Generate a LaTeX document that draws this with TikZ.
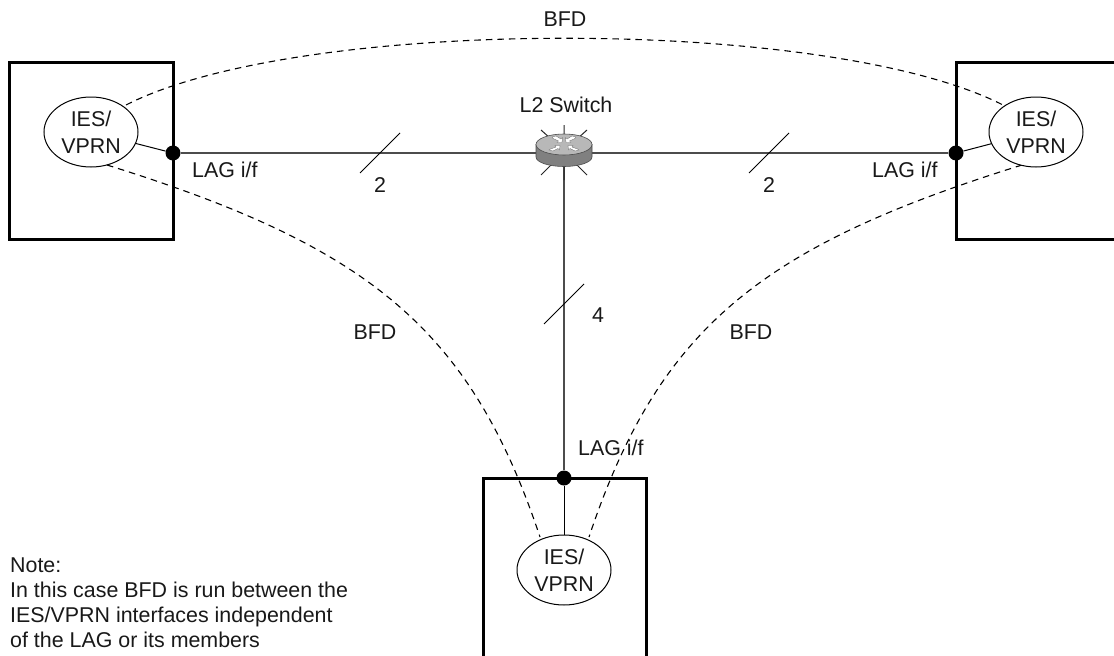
\documentclass[tikz,border=0pt]{standalone}
\usepackage{fontspec}
\setmainfont{Liberation Sans}
\usetikzlibrary{shapes.geometric}
\definecolor{linegray}{gray}{0.3}
\tikzset{
 x=1pt,y=-1pt,
 lbl/.style={font=\fontsize{21.4}{21.4}\selectfont,inner sep=0pt,text=black!90},
 hostbox/.style={draw=black,line width=3pt},
 svc/.style={draw=black,line width=1pt,ellipse,fill=white,minimum width=94pt,minimum height=70pt,inner sep=0pt,align=center,font=\fontsize{21.4}{26.5}\selectfont,text=black!90},
 port/.style={circle,fill=black,minimum size=15pt,inner sep=0pt},
 trunk/.style={draw=linegray,line width=1.6pt},
 thin/.style={draw=black,line width=1pt},
 bfd/.style={draw=black,line width=1.1pt,dash pattern=on 6.5pt off 5pt},
 rayline/.style={draw=black!85,line width=1pt},
}
\begin{document}
\begin{tikzpicture}
\useasboundingbox (0,0) rectangle (1114,656);
\clip (0,0) rectangle (1114,656);
\fill[white] (0,0) rectangle (1114,656);
% boxes
\draw[hostbox] (9,62) rectangle (173,239);
\draw[hostbox] (956,62) rectangle (1125,239);
\draw[hostbox] (483,478) rectangle (646,670);
% bfd curves
\coordinate (tl) at (126,105);
\coordinate (tr) at (1003,105);
\coordinate (ll) at (107,165);
\coordinate (lb) at (540,537);
\coordinate (rr) at (1022,165);
\coordinate (rb) at (589,537);
\draw[bfd] (tl) .. controls (300,16) and (829,16) .. (tr);
\draw[bfd] (ll) .. controls (367,246) and (470,327) .. (lb);
\draw[bfd] (rr) .. controls (762,246) and (659,327) .. (rb);
% services and ports
\node[svc] (a) at (91,132) {IES/\\VPRN};
\node[svc] (b) at (1036,132) {IES/\\VPRN};
\node[svc] (c) at (564,570) {IES/\\VPRN};
\node[port] (pa) at (173,153) {};
\node[port] (pb) at (956,153) {};
\node[port] (pc) at (564,478) {};
\coordinate (sw) at (564,153);
\draw[thin] (a) -- (pa);
\draw[thin] (b) -- (pb);
\draw[thin] (c) -- (pc);
\draw[trunk] (pa) -- (sw);
\draw[trunk] (pb) -- (sw);
\draw[trunk,line width=1.2pt] (pc) -- (sw);
% rays
\draw[rayline] (564,125) -- (564,135) (541,130) -- (551,139) (587,130) -- (577,139)
 (541,175) -- (552,164) (587,175) -- (576,164) (564,166) -- (564,180);
% switch
\fill[black!50] (536,144) -- (536,157) arc[start angle=180,end angle=360,x radius=28pt,y radius=9.5pt] -- (592,144) -- cycle;
\draw[black!70,line width=0.6pt] (536,144) -- (536,157) arc[start angle=180,end angle=360,x radius=28pt,y radius=9.5pt] -- (592,144);
\draw[black!70,line width=0.6pt,fill=black!28] (564,144.5) ellipse[x radius=28pt,y radius=10.5pt];
\fill[white,draw=black!60,line width=0.3pt] (552,137) -- (556,136) -- (561,139) -- (562.5,137.5) -- (562,142.5) -- (557,142.5) -- (558.5,141) -- (553,138.5) -- cycle;
\fill[white,draw=black!60,line width=0.3pt] (576,137) -- (572,136) -- (567,139) -- (565.5,137.5) -- (566,142.5) -- (571,142.5) -- (569.5,141) -- (575,138.5) -- cycle;
\fill[white,draw=black!60,line width=0.3pt] (549,150) -- (553,151) -- (558,148.5) -- (559.5,150) -- (560,145.5) -- (555,145.5) -- (556,147) -- (550.5,149) -- cycle;
\fill[white,draw=black!60,line width=0.3pt] (579,150) -- (575,151) -- (570,148.5) -- (568.5,150) -- (568,145.5) -- (573,145.5) -- (572,147) -- (577.5,149) -- cycle;
% slashes
\coordinate (s1a) at (360,173); \coordinate (s1b) at (400,133);
\coordinate (s2a) at (749,173); \coordinate (s2b) at (789,133);
\coordinate (s3a) at (544,324); \coordinate (s3b) at (584,284);
\draw[thin] (s1a) -- (s1b);
\draw[thin] (s2a) -- (s2b);
\draw[thin] (s3a) -- (s3b);
% labels
\node[lbl] (t1) at (566,105) {L2 Switch};
\node[lbl] (t2) at (565,19.5) {BFD};
\node[lbl] (t3) at (375,332.5) {BFD};
\node[lbl] (t4) at (751,332.5) {BFD};
\node[lbl,anchor=west] (t5) at (192,170) {LAG i/f};
\node[lbl,anchor=west] (t6) at (872,170) {LAG i/f};
\node[lbl,anchor=west] (t7) at (578,448) {LAG i/f};
\node[lbl] (t8) at (380,185) {2};
\node[lbl] (t9) at (769,185) {2};
\node[lbl] (t10) at (598,315) {4};
\node[lbl,anchor=base west] (n1) at (10,572) {Note:};
\node[lbl,anchor=base west] (n2) at (10,597.5) {In this case BFD is run between the};
\node[lbl,anchor=base west] (n3) at (10,622.5) {IES/VPRN interfaces independent};
\node[lbl,anchor=base west] (n4) at (10,647.5) {of the LAG or its members};
\end{tikzpicture}
\end{document}
